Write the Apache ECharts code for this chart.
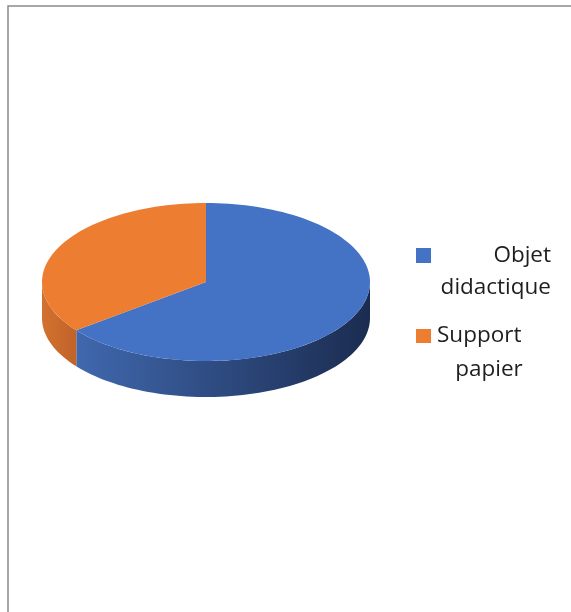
<!DOCTYPE html>
<html>
<head>
<meta charset="utf-8">
<script src="https://cdn.jsdelivr.net/npm/echarts@6/dist/echarts.min.js"></script>
<style>
  html, body { margin: 0; padding: 0; background: #fff; }
  #chart { width: 571px; height: 612px; }
</style>
</head>
<body>
<div id="chart"></div>
<script>
// data
const categories = ['Objet didactique', 'Support papier'];
const values = [20, 11];
const topColors = ['#4472C4', '#ED7D31'];
const sideColors = [['#4068ae', '#1b2c50'], ['#d3722f', '#c0632a']];

// ellipse of the "3d" pie
const cx = 206, cy = 282, rx = 164, ry = 79, depth = 36;

const total = values.reduce((a, b) => a + b, 0);
const starts = [];
let acc = 0;
values.forEach(v => { starts.push(acc / total * 360); acc += v; });

// angle measured clockwise from 12 o'clock
function pt(deg, off) {
    const r = deg * Math.PI / 180;
    return [cx + rx * Math.sin(r), cy - ry * Math.cos(r) + off];
}
function arc(a1, a2, off) {
    const pts = [];
    const n = Math.max(2, Math.ceil(Math.abs(a2 - a1) / 2));
    for (let i = 0; i <= n; i++) pts.push(pt(a1 + (a2 - a1) * i / n, off));
    return pts;
}

function renderSlice(params, api) {
    const i = params.dataIndex;
    const a1 = starts[i];
    const a2 = a1 + api.value(0) / total * 360;
    const children = [];
    // only the front half of the rim is visible
    const s1 = Math.max(a1, 90), s2 = Math.min(a2, 270);
    if (s2 > s1) {
        children.push({
            type: 'polygon',
            z2: 1,
            shape: { points: arc(s1, s2, 0).concat(arc(s2, s1, depth)) },
            style: {
                fill: new echarts.graphic.LinearGradient(0, 0, 1, 0, [
                    { offset: 0, color: sideColors[i][0] },
                    { offset: 1, color: sideColors[i][1] }
                ])
            }
        });
    }
    children.push({
        type: 'polygon',
        z2: 10,
        shape: { points: [[cx, cy]].concat(arc(a1, a2, 0)) },
        style: { fill: topColors[i] }
    });
    return { type: 'group', children: children };
}

const chart = echarts.init(document.getElementById('chart'));

const font = '22.5px "Open Sans", sans-serif';
const textColor = '#1e1e1e';
const l0 = categories[0].split(' ');
const l1 = categories[1].split(' ');

const option = {
    animation: false,
    series: [{
        type: 'custom',
        coordinateSystem: 'none',
        renderItem: renderSlice,
        data: values.map(v => [v])
    }],
    graphic: [
        { type: 'rect', shape: { x: 8, y: 6, width: 620, height: 640 }, style: { fill: 'none', stroke: '#8a8a8a', lineWidth: 1.5 } },
        { type: 'rect', shape: { x: 416, y: 248, width: 15, height: 15 }, style: { fill: topColors[0] } },
        { type: 'text', x: 551, y: 256, style: { text: l0[0], font: font, fill: textColor, align: 'right', verticalAlign: 'middle' } },
        { type: 'text', x: 551, y: 288, style: { text: l0[1], font: font, fill: textColor, align: 'right', verticalAlign: 'middle' } },
        { type: 'rect', shape: { x: 416, y: 329, width: 15, height: 14 }, style: { fill: topColors[1] } },
        { type: 'text', x: 437, y: 336, style: { text: l1[0], font: font, fill: textColor, align: 'left', verticalAlign: 'middle' } },
        { type: 'text', x: 489, y: 370, style: { text: l1[1], font: font, fill: textColor, align: 'center', verticalAlign: 'middle' } }
    ]
};

chart.setOption(option);
</script>
</body>
</html>
